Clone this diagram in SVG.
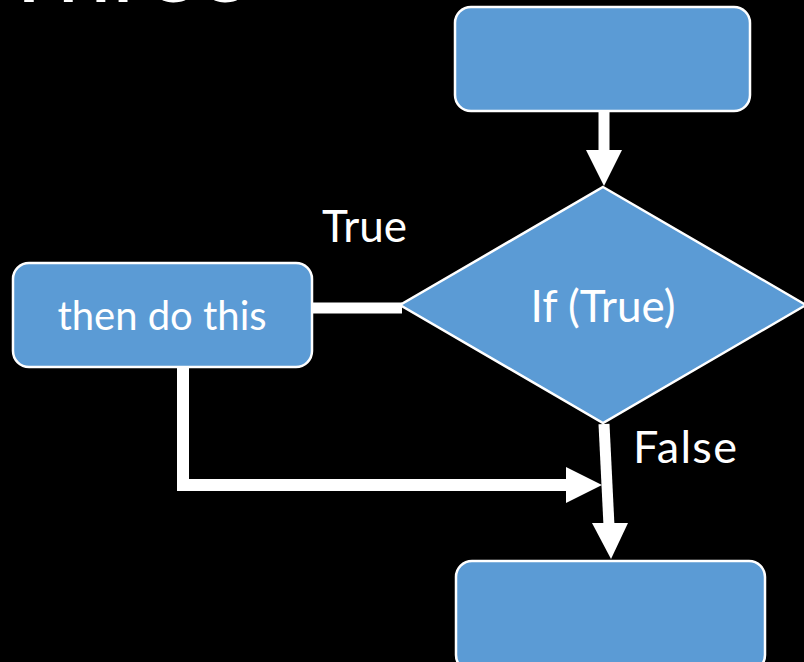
<svg xmlns="http://www.w3.org/2000/svg" width="804" height="662" viewBox="0 0 804 662">
  <style>
    .box { fill: #5B9BD5; stroke: #FFFFFF; stroke-width: 2.5; }
    .lbl { font-family: Lato, "Open Sans", "Liberation Sans", sans-serif; fill: #FFFFFF; }
    .wire { fill: none; stroke: #FFFFFF; stroke-width: 11; stroke-linejoin: miter; }
    .head { fill: #FFFFFF; }
  </style>
  <rect width="804" height="662" fill="#000000"/>

  <!-- title, mostly above the top edge -->
  <text class="lbl" x="0" y="2" font-size="98">Three</text>

  <g id="connectors">
    <!-- start box to decision -->
    <line class="wire" x1="604" y1="111" x2="604" y2="152"/>
    <polygon class="head" points="586,150 622,150 604,186"/>
    <!-- decision (True) to action box -->
    <line class="wire" x1="312" y1="308" x2="402" y2="308"/>
    <!-- action box down and across to the False path -->
    <polyline class="wire" points="183,367 183,485 568,485" style="stroke-width:12"/>
    <polygon class="head" points="566,467 566,503 602,485"/>
    <!-- decision (False) to end box -->
    <line class="wire" x1="604" y1="424" x2="609" y2="526"/>
    <polygon class="head" points="592,523 628,523 611,559"/>
  </g>

  <g id="start">
    <rect class="box" x="455" y="7" width="295" height="104" rx="16"/>
  </g>

  <g id="decision">
    <polygon class="box" points="603,187 806,305 603,423 400,305"/>
    <text class="lbl" x="603" y="322" font-size="44" text-anchor="middle">If (True)</text>
  </g>

  <g id="action">
    <rect class="box" x="13" y="263" width="299" height="104" rx="16"/>
    <text class="lbl" x="162" y="330" font-size="40" text-anchor="middle">then do this</text>
  </g>

  <g id="end">
    <rect class="box" x="456" y="561" width="309" height="110" rx="16"/>
  </g>

  <text class="lbl" x="322" y="242" font-size="44">True</text>
  <text class="lbl" x="633" y="463" font-size="45" textLength="104" lengthAdjust="spacing">False</text>
</svg>
